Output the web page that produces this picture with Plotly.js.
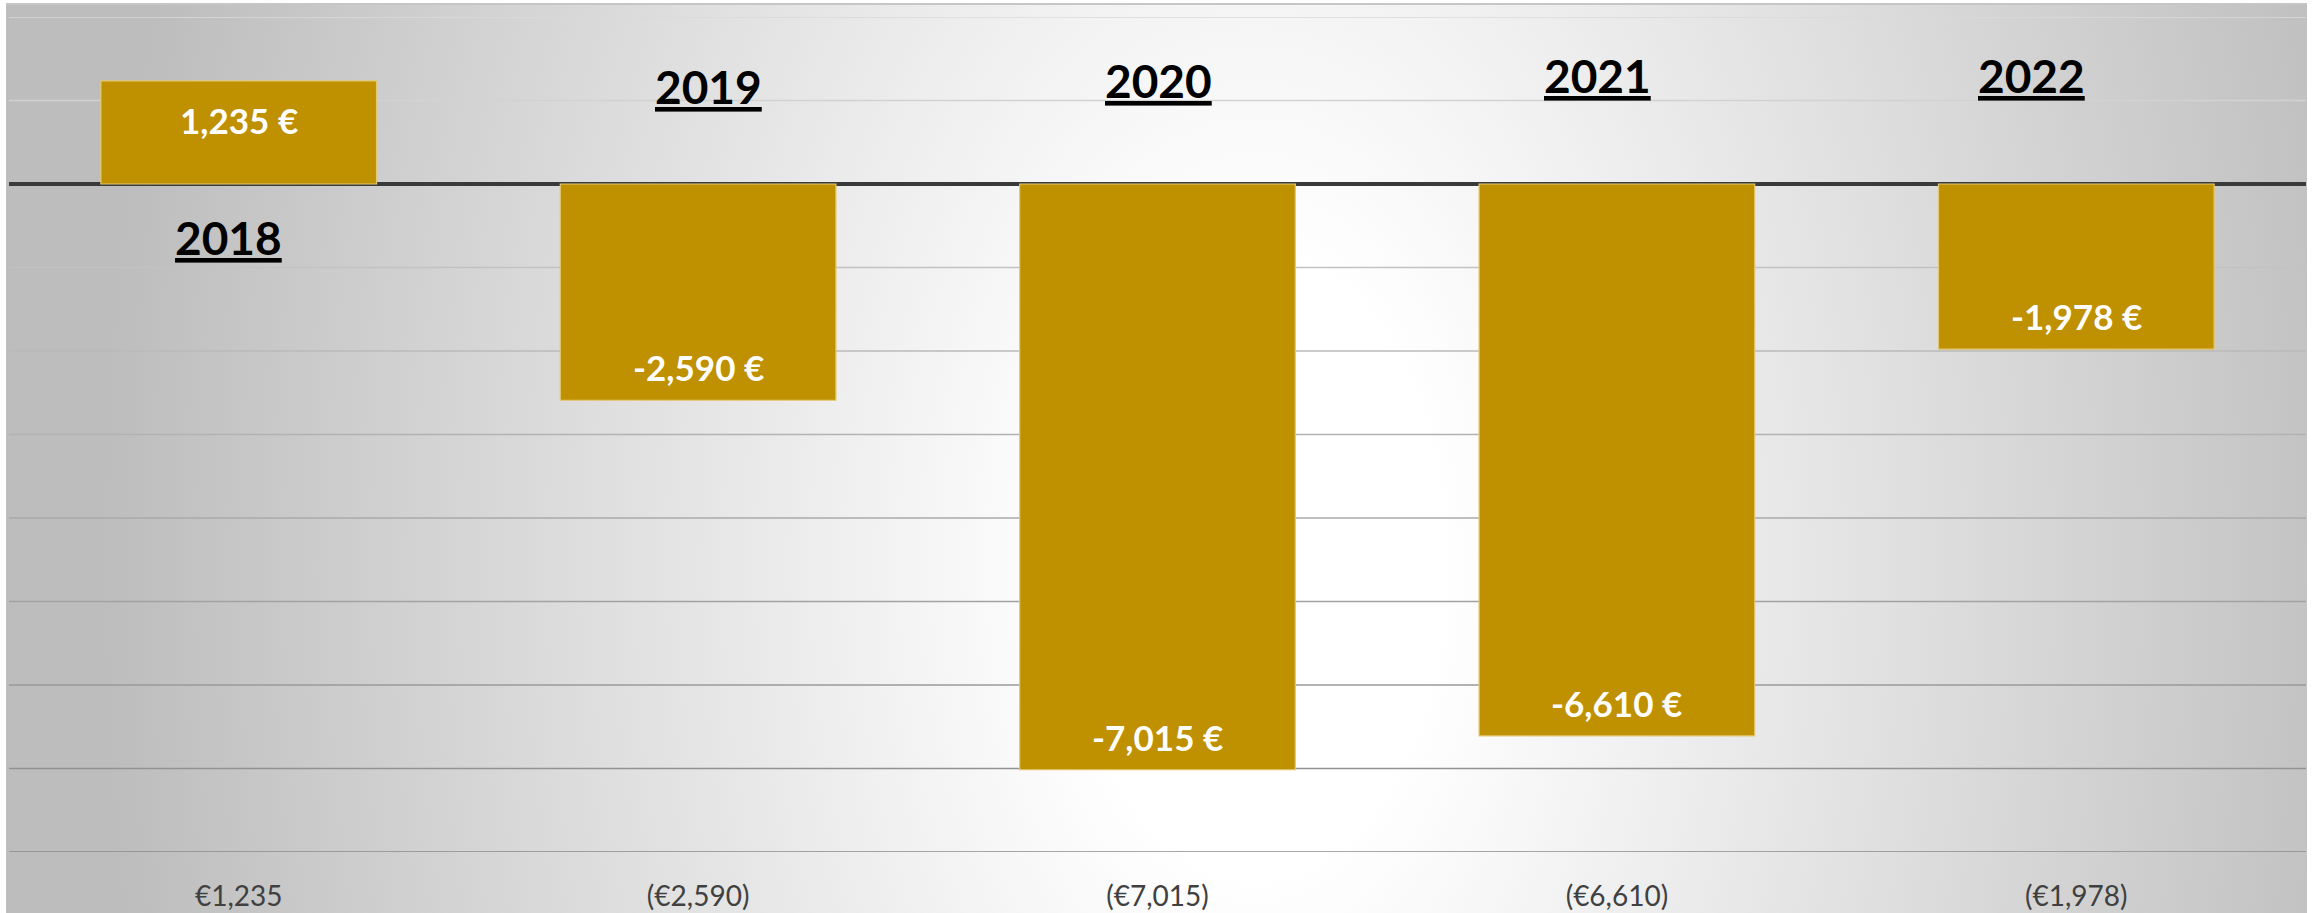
<!DOCTYPE html>
<html>
<head>
<meta charset="utf-8">
<script src="https://cdn.plot.ly/plotly-3.0.1.min.js"></script>
<style>
  html, body { margin: 0; padding: 0; background: #ffffff; }
  #wrap { position: relative; width: 2318px; height: 913px; overflow: hidden; background: #ffffff; }
  #bg {
    position: absolute; left: 6px; top: 3px; width: 2301px; height: 912px;
    box-sizing: border-box;
    border-top: 2px solid #c6c6c6;
    background: radial-gradient(ellipse 1150px 1900px at 1250px 560px, #ffffff 0%, #ffffff 16%, #bdbdbd 100%);
  }
  #chart { position: absolute; left: 0; top: 0; width: 2318px; height: 913px; }
</style>
</head>
<body>
<div id="wrap">
  <div id="bg"></div>
  <div id="chart"></div>
</div>
<script>
// ---- data ----
const years = ['2018', '2019', '2020', '2021', '2022'];
const values = [1235, -2590, -7015, -6610, -1978];
const yTicks = [2000, 1000, 0, -1000, -2000, -3000, -4000, -5000, -6000, -7000, -8000];

// ---- label styling (pixel nudges of the hand-placed year labels) ----
const yearLabelNudge = [[-10, -53], [10, 98], [1, 104], [-19, 109], [-45, 109]];

function fmtNum(v) { return Math.abs(v).toLocaleString('en-US'); }
const tickText = values.map(v => v < 0 ? '(€' + fmtNum(v) + ')' : '€' + fmtNum(v));
const valueText = values.map(v => (v < 0 ? '-' : '') + fmtNum(v) + ' €');

const FONT = 'Lato, "Open Sans", "DejaVu Sans", sans-serif';

const trace = {
  type: 'bar',
  x: years,
  y: values,
  marker: { color: '#BF9000', line: { color: '#e3c873', width: 1.2 } },
  hoverinfo: 'skip'
};

// gridline colours run from light at top to darker at bottom
function lerpGrey(t) {
  const a = 218, b = 138;
  const c = Math.round(a + (b - a) * t);
  return 'rgb(' + c + ',' + c + ',' + c + ')';
}
const yMax = yTicks[0], yMin = yTicks[yTicks.length - 1];
const shapes = yTicks.filter(v => v !== 0).map(v => ({
  type: 'line', xref: 'paper', x0: 0, x1: 1, yref: 'y', y0: v, y1: v,
  layer: 'below',
  line: { color: lerpGrey((yMax - v) / (yMax - yMin)), width: 1.6 }
}));

const annotations = [];
values.forEach((v, i) => {
  annotations.push({
    x: i, y: v, xref: 'x', yref: 'y',
    text: '<b>' + valueText[i] + '</b>',
    showarrow: false, xanchor: 'center', yanchor: 'middle',
    yshift: v >= 0 ? -39 : 33,
    font: { family: FONT, size: 35, color: '#ffffff' }
  });
  annotations.push({
    x: i, y: 0, xref: 'x', yref: 'y',
    text: '<b>' + years[i] + '</b>',
    showarrow: false, xanchor: 'center', yanchor: 'middle',
    xshift: yearLabelNudge[i][0], yshift: yearLabelNudge[i][1],
    font: { family: FONT, size: 46, color: '#000000', lineposition: 'under' }
  });
});

const layout = {
  width: 2318, height: 913,
  margin: { l: 9, r: 12, t: 17, b: 61, pad: 0 },
  paper_bgcolor: 'rgba(0,0,0,0)',
  plot_bgcolor: 'rgba(0,0,0,0)',
  showlegend: false,
  bargap: 0.4,
  xaxis: {
    type: 'category',
    categoryorder: 'array', categoryarray: years,
    range: [-0.5, years.length - 0.5],
    tickmode: 'array', tickvals: years, ticktext: tickText,
    tickfont: { family: FONT, size: 28, color: '#404040' },
    showgrid: false, showline: false, zeroline: false, ticks: '',
    ticklabelstandoff: 25
  },
  yaxis: {
    range: [yMin, yMax],
    tickmode: 'array', tickvals: yTicks,
    showgrid: false, showticklabels: false, ticks: '',
    zeroline: true, zerolinecolor: '#3a3a3a', zerolinewidth: 3.6
  },
  shapes: shapes,
  annotations: annotations
};

Plotly.newPlot('chart', [trace], layout, { displayModeBar: false, staticPlot: true });
</script>
</body>
</html>
